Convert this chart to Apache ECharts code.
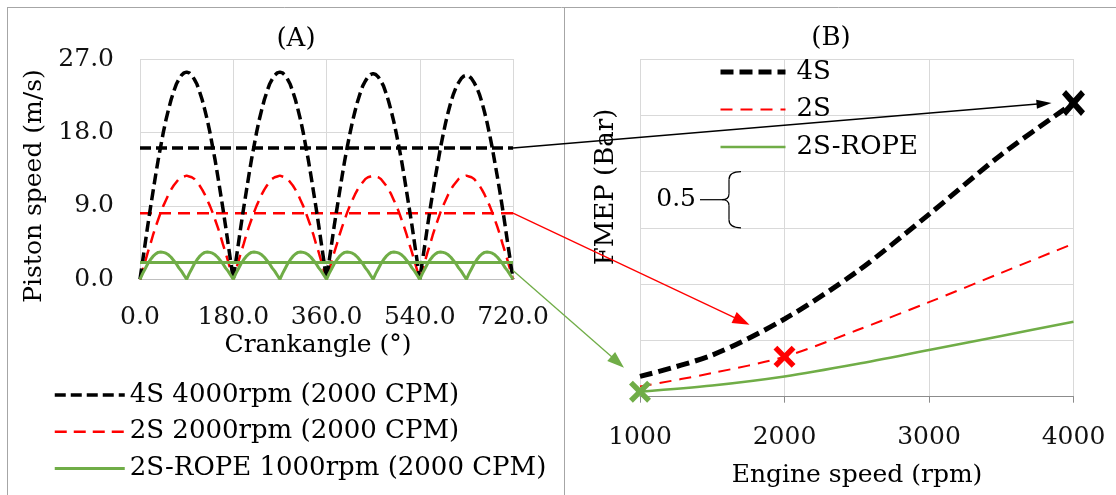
<!DOCTYPE html>
<html>
<head>
<meta charset="utf-8">
<script src="https://cdn.jsdelivr.net/npm/echarts@6/dist/echarts.min.js"></script>
<style>
  html, body { margin: 0; padding: 0; background: #fff; }
  #chart { width: 1116px; height: 495px; }
</style>
</head>
<body>
<div id="chart"></div>
<script>
// ---------- Panel A: piston speed over one 720° cycle ----------
const crankAngle = [
  0,5,10,15,20,25,30,35,40,45,50,55,60,65,70,75,80,85,90,95,100,105,110,115,120,125,130,135,140,145,150,155,160,165,170,175,180,
  185,190,195,200,205,210,215,220,225,230,235,240,245,250,255,260,265,270,275,280,285,290,295,300,305,310,315,320,325,330,335,340,345,350,355,360,
  365,370,375,380,385,390,395,400,405,410,415,420,425,430,435,440,445,450,455,460,465,470,475,480,485,490,495,500,505,510,515,520,525,530,535,540,
  545,550,555,560,565,570,575,580,585,590,595,600,605,610,615,620,625,630,635,640,645,650,655,660,665,670,675,680,685,690,695,700,705,710,715,720
];

// 4S at 4000 rpm (m/s)
const speed4S = [
  0,2.2,4.4,6.6,8.7,10.7,12.7,14.6,16.3,18.0,19.5,20.8,22.0,23.0,23.9,24.5,25.0,25.3,25.4,25.3,25.0,24.5,23.9,23.0,22.0,20.8,19.5,18.0,16.3,14.6,12.7,10.7,8.7,6.6,4.4,2.2,0,
  2.2,4.4,6.6,8.7,10.7,12.7,14.6,16.3,18.0,19.5,20.8,22.0,23.0,23.9,24.5,25.0,25.3,25.4,25.3,25.0,24.5,23.9,23.0,22.0,20.8,19.5,18.0,16.3,14.6,12.7,10.7,8.7,6.6,4.4,2.2,0,
  2.2,4.4,6.6,8.6,10.6,12.6,14.5,16.2,17.8,19.3,20.6,21.8,22.8,23.7,24.3,24.8,25.1,25.2,25.1,24.8,24.3,23.7,22.8,21.8,20.6,19.3,17.8,16.2,14.5,12.6,10.6,8.6,6.6,4.4,2.2,0,
  2.2,4.3,6.5,8.6,10.6,12.5,14.3,16.1,17.7,19.2,20.5,21.7,22.7,23.5,24.1,24.6,24.9,25.0,24.9,24.6,24.1,23.5,22.7,21.7,20.5,19.2,17.7,16.1,14.3,12.5,10.6,8.6,6.5,4.3,2.2,0
];

// 2S at 2000 rpm (m/s)
const speed2S = [
  0,1.1,2.2,3.3,4.3,5.4,6.4,7.3,8.2,9.0,9.7,10.4,11.0,11.5,11.9,12.3,12.5,12.6,12.7,12.6,12.5,12.3,11.9,11.5,11.0,10.4,9.7,9.0,8.2,7.3,6.4,5.4,4.3,3.3,2.2,1.1,0,
  1.1,2.2,3.3,4.3,5.4,6.4,7.3,8.2,9.0,9.7,10.4,11.0,11.5,11.9,12.3,12.5,12.6,12.7,12.6,12.5,12.3,11.9,11.5,11.0,10.4,9.7,9.0,8.2,7.3,6.4,5.4,4.3,3.3,2.2,1.1,0,
  1.1,2.2,3.3,4.3,5.4,6.4,7.3,8.2,9.0,9.7,10.4,11.0,11.5,11.9,12.3,12.5,12.6,12.7,12.6,12.5,12.3,11.9,11.5,11.0,10.4,9.7,9.0,8.2,7.3,6.4,5.4,4.3,3.3,2.2,1.1,0,
  1.1,2.2,3.3,4.3,5.4,6.4,7.3,8.2,9.0,9.7,10.4,11.0,11.5,11.9,12.3,12.5,12.6,12.7,12.6,12.5,12.3,11.9,11.5,11.0,10.4,9.7,9.0,8.2,7.3,6.4,5.4,4.3,3.3,2.2,1.1,0
];

// 2S-ROPE at 1000 rpm (m/s)
const speedROPE = [
  0,0.7,1.3,1.9,2.4,2.8,3.1,3.3,3.35,3.3,3.2,3.0,2.7,2.3,1.9,1.4,1.0,0.5,0,
  0.7,1.3,1.9,2.4,2.8,3.1,3.3,3.35,3.3,3.2,3.0,2.7,2.3,1.9,1.4,1.0,0.5,0,
  0.7,1.3,1.9,2.4,2.8,3.1,3.3,3.35,3.3,3.2,3.0,2.7,2.3,1.9,1.4,1.0,0.5,0,
  0.7,1.3,1.9,2.4,2.8,3.1,3.3,3.35,3.3,3.2,3.0,2.7,2.3,1.9,1.4,1.0,0.5,0,
  0.7,1.3,1.9,2.4,2.8,3.1,3.3,3.35,3.3,3.2,3.0,2.7,2.3,1.9,1.4,1.0,0.5,0,
  0.7,1.3,1.9,2.4,2.8,3.1,3.3,3.35,3.3,3.2,3.0,2.7,2.3,1.9,1.4,1.0,0.5,0,
  0.7,1.3,1.9,2.4,2.8,3.1,3.3,3.35,3.3,3.2,3.0,2.7,2.3,1.9,1.4,1.0,0.5,0,
  0.7,1.3,1.9,2.4,2.8,3.1,3.3,3.35,3.3,3.2,3.0,2.7,2.3,1.9,1.4,1.0,0.5,0
];

// mean piston speeds (m/s)
const mean4S = 16.1;
const mean2S = 8.1;
const meanROPE = 2.05;

const crankTickLabels = ['0.0', '180.0', '360.0', '540.0', '720.0'];
const speedTickLabels = ['0.0', '9.0', '18.0', '27.0'];

// ---------- Panel B: FMEP against engine speed ----------
const engineSpeed = [1000, 1500, 2000, 2500, 3000, 3500, 4000];
const fmep4S   = [0.18, 0.37, 0.69, 1.11, 1.62, 2.15, 2.61];
const fmep2S   = [0.09, 0.21, 0.355, 0.59, 0.84, 1.10, 1.36];
const fmepROPE = [0.045, 0.10, 0.18, 0.29, 0.415, 0.54, 0.665];
const rpmTickLabels = ['1000', '2000', '3000', '4000'];

// operating points at 2000 cycles per minute
const point4S   = [engineSpeed[6], fmep4S[6]];
const point2S   = [engineSpeed[2], fmep2S[2]];
const pointROPE = [engineSpeed[0], fmepROPE[0]];

const NAME_A4S = '4S 4000rpm (2000 CPM)';
const NAME_A2S = '2S 2000rpm (2000 CPM)';
const NAME_AROPE = '2S-ROPE 1000rpm (2000 CPM)';

const FONT = 'DejaVu Serif';
const BLACK = '#000000';
const RED = '#ff0000';
const GREEN = '#70ad47';
const GRID_COLOR = '#d9d9d9';

const pairs = (xs, ys) => xs.map((x, i) => [x, ys[i]]);
const flat = (v) => [[0, v], [720, v]];

const CROSS = 'path://M3.5,0 L10,6.5 L16.5,0 L20,3.5 L13.5,10 L20,16.5 L16.5,20 L10,13.5 L3.5,20 L0,16.5 L6.5,10 L0,3.5 Z';

const labelStyle = { fontFamily: FONT, fontSize: 25, color: '#111' };
const hiddenSymbol = { opacity: 0, borderWidth: 0 };

const option = {
  animation: false,
  backgroundColor: '#ffffff',
  grid: [
    { left: 140, top: 59, right: 603, bottom: 215.7, containLabel: false },
    { left: 640, top: 59, right: 42.5, bottom: 98.3, containLabel: false }
  ],
  xAxis: [
    {
      gridIndex: 0, type: 'value', min: 0, max: 720, interval: 180,
      axisLine: { show: true, lineStyle: { color: '#bfbfbf', width: 1 } },
      axisTick: { show: false },
      splitLine: { show: true, lineStyle: { color: GRID_COLOR, width: 1 } },
      axisLabel: Object.assign({ margin: 26, formatter: (v) => crankTickLabels[Math.round(v / 180)] }, labelStyle)
    },
    {
      gridIndex: 1, type: 'value', min: 1000, max: 4000, interval: 1000,
      axisLine: { show: true, lineStyle: { color: '#8c8c8c', width: 1 } },
      axisTick: { show: true, length: 6, lineStyle: { color: '#8c8c8c' } },
      splitLine: { show: true, lineStyle: { color: GRID_COLOR, width: 1 } },
      axisLabel: Object.assign({ margin: 28, formatter: (v) => rpmTickLabels[Math.round((v - 1000) / 1000)] }, labelStyle)
    }
  ],
  yAxis: [
    {
      gridIndex: 0, type: 'value', min: 0, max: 27, interval: 9,
      axisLine: { show: false }, axisTick: { show: false },
      splitLine: { show: true, lineStyle: { color: GRID_COLOR, width: 1 } },
      axisLabel: Object.assign({ margin: 26, formatter: (v) => speedTickLabels[Math.round(v / 9)] }, labelStyle)
    },
    {
      gridIndex: 1, type: 'value', min: 0, max: 3, interval: 0.5,
      axisLine: { show: false }, axisTick: { show: false },
      splitLine: { show: true, lineStyle: { color: GRID_COLOR, width: 1 } },
      axisLabel: { show: false }
    }
  ],
  legend: [
    {
      data: [
        { name: NAME_A4S, lineStyle: { width: 3.5 }, itemStyle: hiddenSymbol },
        { name: NAME_A2S, lineStyle: { width: 2.5 }, itemStyle: hiddenSymbol },
        { name: NAME_AROPE, lineStyle: { width: 3 }, itemStyle: hiddenSymbol }
      ],
      orient: 'vertical', left: 48, top: 377,
      itemWidth: 70, itemHeight: 26, itemGap: 10.7,
      selectedMode: false,
      textStyle: { fontFamily: FONT, fontSize: 26, color: '#000', lineHeight: 26 }
    },
    {
      data: [
        { name: '4S', lineStyle: { width: 5 }, itemStyle: hiddenSymbol },
        { name: '2S', lineStyle: { width: 2 }, itemStyle: hiddenSymbol },
        { name: '2S-ROPE', lineStyle: { width: 2.5 }, itemStyle: hiddenSymbol }
      ],
      orient: 'vertical', left: 713, top: 54,
      itemWidth: 65, itemHeight: 26, itemGap: 11.5,
      selectedMode: false,
      textStyle: { fontFamily: FONT, fontSize: 26, color: '#000', lineHeight: 26, padding: [0, 0, 0, 6] }
    }
  ],
  series: [
    // Panel A
    { name: NAME_A2S, type: 'line', xAxisIndex: 0, yAxisIndex: 0, symbol: 'none', z: 2,
      data: pairs(crankAngle, speed2S), lineStyle: { color: RED, width: 2.5, type: [12, 7] }, itemStyle: { color: RED } },
    { name: NAME_A2S, type: 'line', xAxisIndex: 0, yAxisIndex: 0, symbol: 'none', z: 2,
      data: flat(mean2S), lineStyle: { color: RED, width: 2.5, type: [12, 7] }, itemStyle: { color: RED } },
    { name: NAME_A4S, type: 'line', xAxisIndex: 0, yAxisIndex: 0, symbol: 'none', z: 3,
      data: pairs(crankAngle, speed4S), lineStyle: { color: BLACK, width: 3.5, type: [11, 5] }, itemStyle: { color: BLACK } },
    { name: NAME_A4S, type: 'line', xAxisIndex: 0, yAxisIndex: 0, symbol: 'none', z: 3,
      data: flat(mean4S), lineStyle: { color: BLACK, width: 3.5, type: [11, 5] }, itemStyle: { color: BLACK } },
    { name: NAME_AROPE, type: 'line', xAxisIndex: 0, yAxisIndex: 0, symbol: 'none', z: 4,
      data: pairs(crankAngle, speedROPE), lineStyle: { color: GREEN, width: 3 }, itemStyle: { color: GREEN } },
    { name: NAME_AROPE, type: 'line', xAxisIndex: 0, yAxisIndex: 0, symbol: 'none', z: 4,
      data: flat(meanROPE), lineStyle: { color: GREEN, width: 3 }, itemStyle: { color: GREEN } },

    // Panel B
    { name: '2S-ROPE', type: 'line', xAxisIndex: 1, yAxisIndex: 1, symbol: 'none', smooth: 0.3, z: 2,
      data: pairs(engineSpeed, fmepROPE), lineStyle: { color: GREEN, width: 2.5 }, itemStyle: { color: GREEN } },
    { name: '2S', type: 'line', xAxisIndex: 1, yAxisIndex: 1, symbol: 'none', smooth: 0.3, z: 3,
      data: pairs(engineSpeed, fmep2S), lineStyle: { color: RED, width: 2, type: [12, 8] }, itemStyle: { color: RED } },
    { name: '4S', type: 'line', xAxisIndex: 1, yAxisIndex: 1, symbol: 'none', smooth: 0.3, z: 4,
      data: pairs(engineSpeed, fmep4S), lineStyle: { color: BLACK, width: 5, type: [13, 6] }, itemStyle: { color: BLACK } },

    { name: 'point 4S', type: 'scatter', xAxisIndex: 1, yAxisIndex: 1, z: 6,
      symbol: CROSS, symbolSize: [23, 26], data: [point4S], itemStyle: { color: BLACK, opacity: 1 } },
    { name: 'point 2S', type: 'scatter', xAxisIndex: 1, yAxisIndex: 1, z: 6,
      symbol: CROSS, symbolSize: 22, data: [point2S], itemStyle: { color: RED, opacity: 1 } },
    { name: 'point 2S-ROPE', type: 'scatter', xAxisIndex: 1, yAxisIndex: 1, z: 6,
      symbol: CROSS, symbolSize: 22, data: [pointROPE], itemStyle: { color: GREEN, opacity: 1 } }
  ]
};

const chart = echarts.init(document.getElementById('chart'), null, { renderer: 'canvas' });
chart.setOption(option);

// ---------- annotations: frame, titles, axis names, scale brace, arrows ----------
const toA = (p) => chart.convertToPixel({ gridIndex: 0 }, p);
const toB = (p) => chart.convertToPixel({ gridIndex: 1 }, p);

function text(id, str, x, y, size, rot) {
  return {
    type: 'text', id, x, y, rotation: rot || 0, z: 20,
    style: { text: str, fontFamily: FONT, fontSize: size, fill: '#000',
             align: 'center', verticalAlign: 'middle', textAlign: 'center', textVerticalAlign: 'middle' }
  };
}

function seg(id, x1, y1, x2, y2, color, w) {
  return { type: 'line', id, z: 20, shape: { x1, y1, x2, y2 }, style: { stroke: color, lineWidth: w } };
}

function curve(id, x1, y1, cpx1, cpy1, cpx2, cpy2, x2, y2) {
  return { type: 'bezierCurve', id, z: 20,
    shape: { x1, y1, cpx1, cpy1, cpx2, cpy2, x2, y2 },
    style: { stroke: '#000', fill: null, lineWidth: 1.2 } };
}

function arrow(id, p0, p1, color, w, headLen, headW) {
  const dx = p1[0] - p0[0], dy = p1[1] - p0[1];
  const len = Math.hypot(dx, dy);
  const ux = dx / len, uy = dy / len;
  const bx = p1[0] - ux * headLen, by = p1[1] - uy * headLen;
  return [
    { type: 'line', id: id + '-shaft', z: 30,
      shape: { x1: p0[0], y1: p0[1], x2: bx + ux, y2: by + uy },
      style: { stroke: color, lineWidth: w } },
    { type: 'polygon', id: id + '-head', z: 30,
      shape: { points: [[p1[0], p1[1]], [bx - uy * headW / 2, by + ux * headW / 2], [bx + uy * headW / 2, by - ux * headW / 2]] },
      style: { fill: color } }
  ];
}

const endA4S = toA([720, mean4S]);
const endA2S = toA([720, mean2S]);
const endAROPE = toA([720, meanROPE]);
const pB4S = toB(point4S);
const pB2S = toB(point2S);
const pBROPE = toB(pointROPE);

// brace marking one 0.5 bar grid step
const braceTop = toB([1000, 2.0]);
const braceBot = toB([1000, 1.5]);
const gx = braceTop[0];
const yT = braceTop[1], yB = braceBot[1], yM = (yT + yB) / 2;
const xe = gx + 101, xb = gx + 89, xt = gx + 82;

const graphics = [
  // figure frame and panel divider
  seg('frame-top', 7, 7.5, 1116, 7.5, '#a6a6a6', 1),
  seg('frame-left', 7.5, 7, 7.5, 495, '#a6a6a6', 1),
  seg('divider', 564.5, 7, 564.5, 495, '#a6a6a6', 1),

  text('title-a', '(A)', 296, 39, 26),
  text('title-b', '(B)', 831, 38, 26),
  text('name-ya', 'Piston speed (m/s)', 34, 186, 25, Math.PI / 2),
  text('name-xa', 'Crankangle (°)', 318, 345, 25),
  text('name-yb', 'FMEP (Bar)', 606, 187, 26, Math.PI / 2),
  text('name-xb', 'Engine speed (rpm)', 857, 475, 25),

  curve('brace-1', xe, yT, xb + 4, yT, xb, yT + 2, xb, yT + 8),
  seg('brace-2', xb, yT + 8, xb, yM - 6, '#000', 1.2),
  curve('brace-3', xb, yM - 6, xb, yM - 2, xb - 3, yM, xt, yM),
  curve('brace-4', xt, yM, xb - 3, yM, xb, yM + 2, xb, yM + 6),
  seg('brace-5', xb, yM + 6, xb, yB - 8, '#000', 1.2),
  curve('brace-6', xb, yB - 8, xb, yB - 2, xb + 4, yB, xe, yB),
  seg('brace-lead', gx + 60, yM, xt, yM, '#000', 1.2),
  { type: 'text', id: 'brace-label', x: gx + 56, y: yM, z: 20,
    style: { text: '0.5', fontFamily: FONT, fontSize: 25, fill: '#000',
             align: 'right', verticalAlign: 'middle', textAlign: 'right', textVerticalAlign: 'middle' } }
]
  .concat(arrow('arrow-4s', endA4S, [pB4S[0] - 22, pB4S[1]], BLACK, 1.5, 15, 9))
  .concat(arrow('arrow-2s', endA2S, [pB2S[0] - 35, pB2S[1] - 32], RED, 1.3, 17, 12))
  .concat(arrow('arrow-rope', [endAROPE[0], endAROPE[1] + 8], [pBROPE[0] - 16, pBROPE[1] - 24], GREEN, 1.3, 17, 12));

chart.setOption({ graphic: graphics });
</script>
</body>
</html>
